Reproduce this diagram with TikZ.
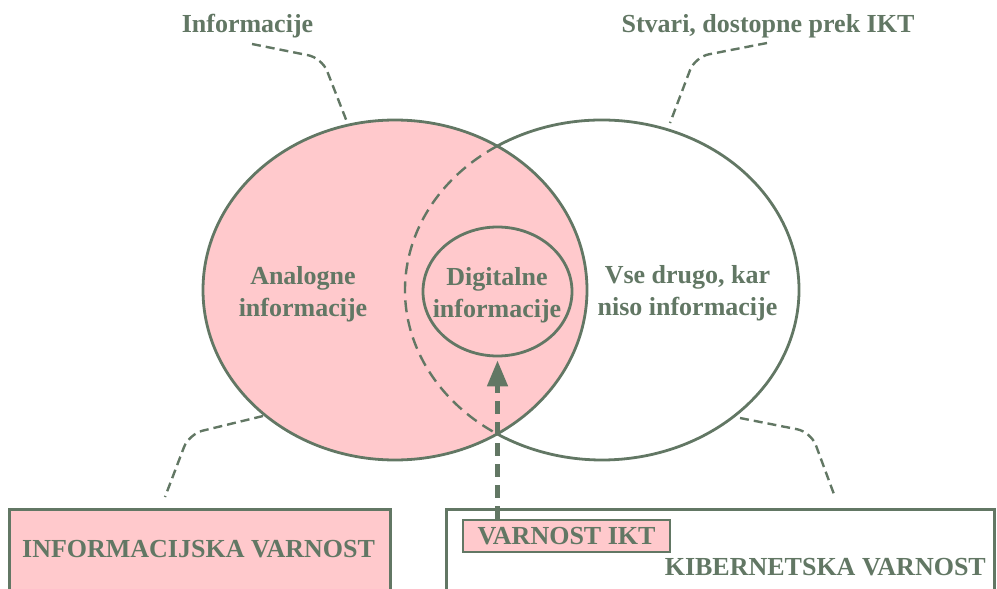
\documentclass[tikz,border=0pt]{standalone}
\usepackage{fontspec}
\setmainfont{Liberation Serif}
\usetikzlibrary{arrows.meta,shapes.geometric}
\definecolor{ink}{HTML}{627764}
\definecolor{rose}{HTML}{FFC9CC}
\begin{document}
\begin{tikzpicture}[x=1pt,y=-1pt,
  lbl/.style={font=\bfseries\fontsize{26}{32}\selectfont, text=ink, inner sep=0pt, align=center},
  outline/.style={draw=ink, line width=2.8pt},
  callout/.style={draw=ink, line width=2.4pt, dash pattern=on 9pt off 5pt, rounded corners=14pt},
  ]
\useasboundingbox (0,0) rectangle (997,589);
\clip (0,0) rectangle (997,589);

% callout points
\coordinate (c1s) at (252,44);  \coordinate (c1k) at (322,58);  \coordinate (c1e) at (347,122);
\coordinate (c2s) at (767,43);  \coordinate (c2k) at (695,57);  \coordinate (c2e) at (670,123);
\coordinate (c3s) at (263,416); \coordinate (c3k) at (189,434); \coordinate (c3e) at (165,497);
\coordinate (c4s) at (740,418); \coordinate (c4k) at (811,432); \coordinate (c4e) at (835,497);
\draw[callout] (c1s) -- (c1k) -- (c1e);
\draw[callout] (c2s) -- (c2k) -- (c2e);
\draw[callout] (c3s) -- (c3k) -- (c3e);
\draw[callout] (c4s) -- (c4k) -- (c4e);

% left ellipse and inner ellipse
\node[ellipse, outline, fill=rose, minimum width=384pt, minimum height=340pt, inner sep=0pt] (L) at (395,290) {};
\node[ellipse, outline, fill=rose, minimum width=149pt, minimum height=129pt, inner sep=0pt] (D) at (497.5,291.5) {};

% right ellipse: solid outside, dashed inside left ellipse
\coordinate (Rc) at (602,290);
\draw[outline] (Rc) ++(122.1:197pt and 170pt) arc[start angle=122.1, end angle=-122.1, x radius=197pt, y radius=170pt];
\draw[outline, line width=2.4pt, dash pattern=on 12pt off 7pt] (Rc) ++(122.1:197pt and 170pt) arc[start angle=122.1, end angle=237.9, x radius=197pt, y radius=170pt];

% labels
\node[lbl] (an) at (303,294) {Analogne\\informacije};
\node[lbl] (dg) at (497,295) {Digitalne\\informacije};
\node[lbl] (vs) at (687.5,293) {Vse drugo, kar\\niso informacije};
\node[lbl, anchor=base] (inf) at (247.5,32) {Informacije};
\node[lbl, anchor=base] (stv) at (768,32) {Stvari, dostopne prek IKT};

% bottom boxes
\node[outline, fill=rose, minimum width=381pt, minimum height=120pt, inner sep=0pt, anchor=north west] (ib) at (8,508) {};
\node[outline, fill=white, minimum width=548pt, minimum height=120pt, inner sep=0pt, anchor=north west] (kb) at (445,508) {};
\node[lbl, anchor=base] (ibt) at (198.5,557) {INFORMACIJSKA VARNOST};
\node[lbl, anchor=base east] (kbt) at (986,575) {KIBERNETSKA VARNOST};
\node[lbl, outline, fill=rose, minimum width=207pt, minimum height=32pt] (ikt) at (566.5,536) {VARNOST IKT};

% arrow
\draw[ink, line width=4.8pt, dash pattern=on 13pt off 8pt, -{Triangle[length=26pt, width=20pt]}, shorten >=3pt] (ikt.north -| D.south) -- (D.south);
\end{tikzpicture}
\end{document}
